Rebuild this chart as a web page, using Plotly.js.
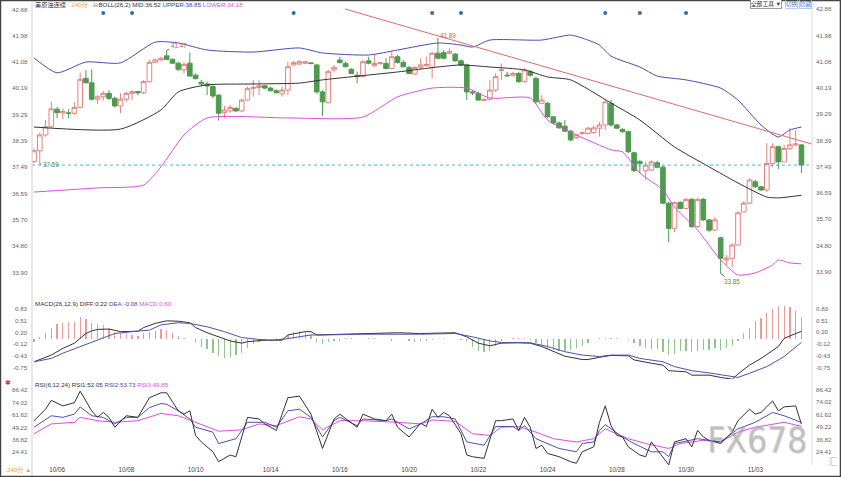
<!DOCTYPE html>
<html><head><meta charset="utf-8">
<script src="https://cdn.plot.ly/plotly-3.0.1.min.js"></script>
<style>html,body{margin:0;padding:0;background:#fff;}#chart{width:841px;height:477px;}</style>
</head><body><div id="chart"></div>
<script>
// ---------- DATA ----------
const openP = [37.67,38.04,38.58,38.86,39.46,39.33,39.33,39.32,39.52,40.51,
40.36,39.80,39.88,40.00,39.83,39.57,39.80,40.00,40.06,40.02,
40.40,41.06,41.14,41.28,41.16,41.03,40.80,41.03,40.62,40.38,
40.32,40.23,39.94,39.34,39.40,39.49,39.40,39.77,40.17,40.20,
40.26,40.18,40.09,39.98,40.11,40.97,41.00,41.03,41.04,40.97,
40.05,39.68,40.80,41.14,41.02,40.82,40.62,40.57,41.11,40.94,
41.02,41.02,40.85,41.25,41.05,40.88,40.66,40.89,40.96,40.89,
41.37,41.39,41.37,41.34,41.11,40.97,40.05,40.00,39.76,39.80,
40.11,40.78,40.62,40.62,40.68,40.40,40.74,40.51,39.66,39.66,
39.20,38.99,38.88,38.71,38.48,38.63,38.63,38.66,38.81,38.92,
39.66,38.92,38.77,38.69,37.97,37.67,37.36,37.38,37.63,37.48,
36.25,35.39,36.27,36.07,36.38,35.45,36.38,35.68,35.33,35.07,
34.31,34.37,34.82,35.95,36.25,36.98,36.81,36.70,37.61,38.18,
37.66,38.12,38.24,38.24];
const highP = [38.12,38.66,39.09,39.71,39.54,39.49,39.46,39.71,40.71,40.80,
40.82,39.94,40.08,40.11,39.89,40.00,40.06,40.11,40.08,40.46,
41.14,41.20,41.25,41.47,41.20,41.08,41.08,41.39,40.68,40.46,
40.40,40.28,39.96,39.57,39.60,39.52,39.83,40.23,40.46,40.46,
40.28,40.23,40.14,40.23,41.08,41.11,41.14,41.11,41.06,41.00,
40.11,40.80,40.97,41.25,41.08,40.86,40.74,41.14,41.25,41.31,
41.08,41.20,41.42,41.31,41.14,40.94,40.94,41.20,41.25,41.42,
41.89,41.48,41.54,41.37,41.16,41.02,40.11,40.06,39.83,40.46,
40.68,41.02,40.74,40.74,40.74,40.86,40.80,40.57,39.94,39.71,
39.22,39.04,39.09,38.75,38.62,38.70,38.85,38.90,39.03,39.77,
39.77,38.96,38.81,38.73,38.01,37.72,37.67,37.72,37.70,37.55,
36.30,36.30,36.32,36.43,36.43,36.43,36.43,35.71,35.78,35.10,
34.48,34.89,35.98,36.32,37.11,37.04,36.84,38.30,38.30,38.20,
38.24,38.82,38.75,38.27];
const lowP = [37.61,37.59,38.52,38.81,39.15,39.11,39.15,39.26,39.49,40.34,
39.75,39.64,39.75,39.77,39.52,39.32,39.71,39.77,39.94,39.98,
40.38,41.03,41.10,41.14,41.00,40.77,40.68,40.57,40.48,40.23,
39.94,39.83,39.07,39.15,39.34,39.37,39.36,39.75,39.89,39.94,
40.14,40.06,40.00,39.89,39.94,40.93,40.97,41.00,40.99,39.99,
39.23,39.66,40.74,41.02,40.89,40.66,40.34,40.55,40.99,40.91,
40.97,40.82,40.82,41.02,40.88,40.66,40.63,40.82,40.91,40.51,
41.16,41.16,41.34,41.08,40.94,39.77,39.94,39.75,39.74,39.75,
40.05,40.46,40.57,40.57,40.36,40.36,40.57,39.66,39.64,39.15,
38.94,38.80,38.68,38.36,38.44,38.58,38.60,38.62,38.52,38.75,
38.86,38.78,38.66,37.96,37.31,37.27,37.04,37.34,37.44,36.21,
34.92,35.26,36.04,36.04,35.40,35.40,35.64,35.27,35.30,33.85,
34.14,34.07,34.82,35.95,36.22,36.77,36.67,36.63,37.48,37.42,
37.66,38.06,38.20,37.28];
const closeP = [38.04,38.58,38.86,39.47,39.34,39.38,39.32,39.52,40.48,40.36,
39.80,39.88,40.00,39.83,39.57,39.80,40.00,40.06,40.02,40.40,
41.06,41.14,41.20,41.16,41.03,40.82,40.99,40.59,40.50,40.32,
40.25,39.91,39.32,39.43,39.52,39.40,39.77,40.17,40.20,40.26,
40.18,40.09,40.02,40.11,40.91,41.05,41.08,41.08,41.02,40.05,
39.71,40.74,40.89,41.05,40.91,40.68,40.57,41.08,41.03,41.02,
41.04,40.85,41.25,41.05,40.91,40.68,40.88,40.97,40.98,41.37,
41.20,41.20,41.42,41.11,40.97,40.05,40.02,39.77,39.79,40.11,
40.57,40.80,40.60,40.68,40.40,40.80,40.62,39.71,39.77,39.20,
38.99,38.82,38.71,38.41,38.58,38.65,38.81,38.82,38.92,39.71,
38.92,38.81,38.69,38.01,37.36,37.61,37.55,37.66,37.48,36.25,
35.39,36.27,36.07,36.38,35.45,36.38,35.68,35.33,35.68,34.37,
34.37,34.82,35.92,36.25,37.04,36.81,36.70,37.61,38.18,37.66,
38.12,38.24,38.27,37.55];

// Bollinger band lines (bar index, value)
const upperIdx = [1,5,10,16,22,26,31,39,47,51,59,64,71,75,77,80,89,94,97,99,101,106,109,114,120,123,127,130,132,134];
const upperVal = [41.21,40.70,41.07,41.04,41.75,41.72,41.48,41.41,41.55,41.38,41.31,41.48,41.72,41.65,41.58,41.82,41.82,41.99,41.82,41.65,41.27,40.90,40.59,40.46,40.18,39.77,38.92,38.51,38.75,38.85];
const midIdx = [1,16,23,26,31,39,47,51,64,71,75,80,86,90,94,101,106,112,118,123,128,130,134];
const midVal = [38.85,38.78,39.43,40.05,40.29,40.32,40.35,40.46,40.73,40.90,40.97,40.90,40.80,40.56,40.46,39.67,39.09,38.17,37.49,36.94,36.46,36.43,36.52];
const lowerIdx = [1,12,20,23,27,31,45,58,64,70,76,80,87,90,95,101,103,106,110,112,116,120,123,126,129,130,132,134];
const lowerVal = [36.63,36.77,36.87,37.49,38.58,39.16,39.16,39.19,39.88,40.18,40.18,39.84,39.84,39.09,38.58,38.07,38.00,37.28,36.70,36.12,35.33,34.31,33.80,33.87,34.14,34.31,34.21,34.18];

// trend line drawn on the chart (bar index, price)
const trendIdx = [54.9, 137];
const trendVal = [42.88, 38.20];

// event dots along the top
const eventBars = [13,18,46,70,75,100,106,114];

// labelled extremes
const markBars = [2,24,71,120];
const markKind = ['low','high','high','low'];

// MACD
const macdHist = [-0.08,0.07,0.16,0.30,0.41,0.45,0.47,0.47,0.61,0.56,
0.45,0.41,0.38,0.27,0.21,0.16,0.16,0.12,0.10,0.16,
0.21,0.23,0.27,0.25,0.16,0.09,0.04,0.01,-0.06,-0.20,
-0.27,-0.36,-0.45,-0.50,-0.47,-0.42,-0.36,-0.24,-0.13,-0.07,
-0.04,-0.03,0.03,0.05,0.13,0.20,0.22,0.20,0.13,-0.07,
-0.11,-0.06,-0.05,-0.04,0.04,0.04,0.02,0.02,0.03,0.04,
0.02,0.01,-0.03,0.02,0.01,-0.05,-0.07,-0.05,-0.03,-0.02,
0.02,0.03,0.02,0.02,-0.02,-0.08,-0.20,-0.30,-0.33,-0.30,
-0.18,-0.04,0.02,0.03,0.03,0.04,-0.02,-0.10,-0.15,-0.22,
-0.28,-0.30,-0.30,-0.28,-0.24,-0.18,-0.10,0.02,0.03,0.04,
0.03,0.03,0.02,-0.02,-0.10,-0.18,-0.22,-0.25,-0.26,-0.33,
-0.43,-0.38,-0.32,-0.30,-0.33,-0.30,-0.28,-0.28,-0.24,-0.28,
-0.22,-0.14,-0.05,0.18,0.31,0.49,0.58,0.72,0.81,0.90,
0.91,0.88,0.76,0.60];
const diffIdx = [1,4,6,8,10,11,12,14,16,19,20,22,24,26,28,29,31,33,35,37,38,41,44,45,48,49,50,52,58,64,68,71,74,76,78,80,82,85,87,89,91,93,96,97,99,101,104,105,108,110,111,114,115,118,120,122,123,125,127,130,131,133,134];
const diffVal = [-0.60,-0.42,-0.24,-0.10,0.16,0.23,0.27,0.28,0.21,0.22,0.32,0.43,0.50,0.49,0.45,0.32,0.18,0.07,-0.04,-0.10,-0.06,-0.02,-0.02,0.12,0.21,0.21,0.12,0.13,0.16,0.18,0.16,0.16,0.18,0.07,-0.10,-0.17,-0.10,-0.09,-0.10,-0.19,-0.33,-0.45,-0.54,-0.54,-0.48,-0.43,-0.44,-0.55,-0.64,-0.69,-0.84,-0.87,-0.96,-0.96,-1.02,-1.07,-0.93,-0.69,-0.51,-0.19,0.03,0.16,0.22];
const deaIdx = [1,4,6,9,12,15,18,21,23,26,28,31,34,37,40,42,44,47,49,51,58,68,74,77,80,82,87,90,93,96,99,101,104,106,110,112,115,118,121,123,125,128,131,134];
const deaVal = [-0.60,-0.51,-0.37,-0.19,-0.02,0.16,0.21,0.25,0.39,0.45,0.43,0.34,0.21,0.05,0.00,-0.02,0.00,0.07,0.12,0.12,0.14,0.14,0.16,0.07,-0.04,-0.08,-0.09,-0.19,-0.33,-0.42,-0.46,-0.42,-0.42,-0.51,-0.60,-0.73,-0.84,-0.90,-0.98,-1.02,-0.91,-0.73,-0.46,-0.08];

// RSI
const rsi1Idx = [1,3,4,6,8,9,11,12,13,14,15,17,19,21,23,24,26,27,28,29,30,32,33,35,36,38,40,41,43,45,47,49,51,53,54,57,58,60,62,63,64,66,68,69,70,71,72,73,75,76,77,79,81,82,84,85,86,87,88,89,90,92,94,95,96,98,99,100,101,102,103,104,106,107,108,110,111,112,114,115,116,117,118,120,122,123,125,126,127,129,130,131,133,134];
const rsi1Val = [55.5,66.9,75.7,70.2,73.4,84.8,65.3,58.8,63.7,58.8,49.0,60.4,58.8,78.3,83.2,83.2,65.3,62.0,65.3,40.9,34.4,24.6,14.8,21.4,19.7,58.8,57.2,52.3,45.8,78.3,79.9,62.0,27.9,57.2,62.0,49.0,62.0,57.2,55.5,62.0,49.0,39.3,53.0,49.7,66.9,58.8,63.7,60.4,42.5,21.4,19.7,18.1,55.5,55.5,57.2,45.8,58.8,49.0,27.9,31.1,23.0,19.7,14.8,13.2,24.6,29.5,53.9,70.2,50.6,40.9,39.3,29.5,21.4,19.7,34.4,19.7,11.6,34.4,37.6,29.5,45.8,39.3,36.0,32.8,44.1,55.5,66.9,62.0,63.7,75.1,65.3,69.2,70.2,52.05];
const rsi2Idx = [1,4,6,8,9,11,13,15,17,19,21,23,24,26,28,29,32,33,35,36,38,41,43,45,47,49,51,53,54,57,58,62,63,66,68,70,72,74,76,79,81,84,85,86,88,92,95,96,98,99,100,103,105,108,110,111,112,116,120,123,126,129,131,134];
const rsi2Val = [49.0,60.4,58.8,62.0,69.2,60.4,58.8,52.3,58.8,58.8,68.5,72.5,71.8,65.3,57.2,49.0,44.1,32.8,36.0,37.6,53.9,53.9,49.0,65.3,66.9,58.8,39.3,55.5,58.8,50.6,57.2,55.5,57.2,47.4,52.3,59.4,59.4,57.2,34.4,31.1,49.7,49.7,45.8,50.6,37.6,27.9,24.6,32.8,34.4,45.8,51.6,39.3,32.8,24.6,24.6,19.7,32.8,37.6,34.4,47.4,53.9,63.7,60.4,53.73];
const rsi3Idx = [1,4,8,9,12,15,19,23,26,29,33,37,40,43,47,49,51,54,58,64,68,70,74,77,80,82,85,88,91,95,98,100,104,107,111,113,117,120,123,126,129,131,134];
const rsi3Val = [42.5,52.3,53.9,58.8,55.5,53.9,55.5,62.7,60.4,53.9,45.1,46.4,52.3,50.6,59.4,57.2,46.4,55.5,55.5,53.9,52.3,56.2,54.9,42.5,40.9,49.0,49.7,44.1,37.6,34.4,37.6,47.4,37.6,32.8,27.9,32.8,36.0,34.4,44.1,49.0,52.3,53.9,49.85];

// axis ticks
const priceTicks = [42.88,41.98,41.08,40.19,39.29,38.39,37.49,36.59,35.70,34.80,33.90];
const macdTicks = [0.83,0.51,0.20,-0.12,-0.43,-0.75];
const rsiTicks = [86.42,74.02,61.62,49.22,36.82,24.41];
const dateTickBars = [5,17,29,42,54,66,78,90,102,114,126];
const dateTickLabels = ['10/06','10/08','10/10','10/14','10/16','10/20','10/22','10/24','10/28','10/30','11/03'];

// ---------- STYLE ----------
const FONT = 'Liberation Sans, Arial, Noto Sans CJK SC, sans-serif';
const C = {up:'#e5837d', down:'#4e9a4e', mid:'#333333', upper:'#4b4bb0', lower:'#e04ce0',
  trend:'#e06a6a', histUp:'#e99c9c', histDn:'#8fc48f', tick:'#666', txt:'#333', orange:'#f0a030'};
const last = a => a[a.length - 1];
const f2 = v => v.toFixed(2);
const bars = openP.map((_, i) => i + 1);

const data = [
  {type:'candlestick', x:bars, open:openP, high:highP, low:lowP, close:closeP,
   xaxis:'x', yaxis:'y', whiskerwidth:0,
   increasing:{line:{color:C.up, width:1}, fillcolor:'#ffffff'},
   decreasing:{line:{color:C.down, width:1}, fillcolor:C.down}, hoverinfo:'skip'},
  {type:'scatter', mode:'lines', x:upperIdx, y:upperVal, line:{color:C.upper, width:1, shape:'spline', smoothing:0.6}, xaxis:'x', yaxis:'y'},
  {type:'scatter', mode:'lines', x:midIdx, y:midVal, line:{color:C.mid, width:1, shape:'spline', smoothing:0.6}, xaxis:'x', yaxis:'y'},
  {type:'scatter', mode:'lines', x:lowerIdx, y:lowerVal, line:{color:C.lower, width:1, shape:'spline', smoothing:0.6}, xaxis:'x', yaxis:'y'},
  {type:'scatter', mode:'lines', x:trendIdx, y:trendVal, line:{color:C.trend, width:1}, xaxis:'x', yaxis:'y'},
  {type:'scatter', mode:'markers', x:eventBars, y:eventBars.map(() => 42.74), marker:{color:'#2f6ea6', size:4}, xaxis:'x', yaxis:'y'},
  {type:'bar', x:bars, y:macdHist, width:0.22, marker:{color:macdHist.map(v => v >= 0 ? C.histUp : C.histDn), line:{width:0}}, xaxis:'x', yaxis:'y2'},
  {type:'scatter', mode:'lines', x:diffIdx, y:diffVal, line:{color:'#333', width:1}, xaxis:'x', yaxis:'y2'},
  {type:'scatter', mode:'lines', x:deaIdx, y:deaVal, line:{color:'#5050b0', width:1}, xaxis:'x', yaxis:'y2'},
  {type:'scatter', mode:'lines', x:rsi3Idx, y:rsi3Val, line:{color:C.lower, width:1}, xaxis:'x', yaxis:'y3'},
  {type:'scatter', mode:'lines', x:rsi2Idx, y:rsi2Val, line:{color:'#5050b0', width:1}, xaxis:'x', yaxis:'y3'},
  {type:'scatter', mode:'lines', x:rsi1Idx, y:rsi1Val, line:{color:'#333', width:1}, xaxis:'x', yaxis:'y3'}
];

const tickFont = {family:FONT, size:6.2, color:C.tick};
const annotations = [];
function leftTicks(ticks, yref){
  ticks.forEach(t => annotations.push({xref:'paper', x:0, xanchor:'right', xshift:-2, yref:yref, y:t,
    text:f2(t), showarrow:false, font:tickFont}));
}
leftTicks(priceTicks, 'y'); leftTicks(macdTicks, 'y2'); leftTicks(rsiTicks, 'y3');

const markStyle = [{ax:11, ay:1}, {ax:12, ay:-5}, {ax:10, ay:-3}, {ax:11, ay:8}];
markBars.forEach((b, i) => {
  const hi = markKind[i] === 'high';
  const v = hi ? highP[b - 1] : lowP[b - 1];
  annotations.push({x:b, y:v, xref:'x', yref:'y', text:f2(v), showarrow:true, arrowhead:0,
    arrowwidth:0.7, arrowcolor:'#333', ax:markStyle[i].ax, ay:markStyle[i].ay, standoff:0,
    font:{family:FONT, size:6.3, color: hi ? '#d9534f' : '#3f9a3f'}});
});

const hdrFont = {family:FONT, size:6.2, color:C.txt};
annotations.push(
  {xref:'paper', yref:'paper', x:0.0013, y:0.9957, xanchor:'left', yanchor:'middle', showarrow:false, font:hdrFont,
   text:`美原油连续 <span style="color:${C.orange}">· 240分 ·</span> <span style="color:#7d5fb2">⊟</span>BOLL(26,2) MID:${f2(last(midVal))} <span style="color:#3a3ab5">UPPER:${f2(last(upperVal))}</span> <span style="color:${C.lower}">LOWER:${f2(last(lowerVal))}</span>`},
  {xref:'paper', yref:'paper', x:0.0013, y:0.3496, xanchor:'left', yanchor:'middle', showarrow:false, font:hdrFont,
   text:`MACD(26,12,9) DIFF:${f2(last(diffVal))} <span style="color:#4848b0">DEA:${f2(last(deaVal))}</span> <span style="color:${C.lower}">MACD:${f2(last(macdHist))}</span>`},
  {xref:'paper', yref:'paper', x:0.0013, y:0.1753, xanchor:'left', yanchor:'middle', showarrow:false, font:hdrFont,
   text:`RSI(6,12,24) RSI1:${f2(last(rsi1Val))} <span style="color:#4848b0">RSI2:${f2(last(rsi2Val))}</span> <span style="color:${C.lower}">RSI3:${f2(last(rsi3Val))}</span>`},
  {xref:'paper', yref:'paper', x:-0.0372, y:0.1775, xanchor:'left', yanchor:'middle', showarrow:false,
   text:'✱', font:{family:FONT, size:7, color:'#e03030'}},
  {xref:'paper', yref:'paper', x:-0.0346, y:-0.0108, xanchor:'left', yanchor:'middle', showarrow:false,
   text:'240分 ▲', font:{family:FONT, size:6.2, color:C.orange}},
  {xref:'paper', yref:'paper', x:0.9205, y:0.9968, xanchor:'left', yanchor:'middle', showarrow:false,
   text:'全部工具 ▼', font:{family:FONT, size:5.8, color:'#333'}, bordercolor:'#888', borderwidth:0.8, borderpad:0, bgcolor:'#fff'},
  {xref:'paper', yref:'paper', x:0.9653, y:0.9968, xanchor:'left', yanchor:'middle', showarrow:false,
   text:'切换', font:{family:FONT, size:5.8, color:'#3a7bd5'}, bordercolor:'#9cc0ee', borderwidth:0.8, borderpad:0},
  {xref:'paper', yref:'paper', x:0.9833, y:0.9968, xanchor:'left', yanchor:'middle', showarrow:false,
   text:'隐藏', font:{family:FONT, size:5.8, color:'#3a7bd5'}, bordercolor:'#9cc0ee', borderwidth:0.8, borderpad:0},
  {xref:'paper', yref:'paper', x:0.9295, y:0.054, xanchor:'center', yanchor:'middle', showarrow:false,
   text:'FX678', font:{family:'Liberation Sans Narrow, DejaVu Sans Condensed, Liberation Sans, sans-serif', size:35, color:'rgba(175,175,175,0.55)', shadow:'1px 1px 1px rgba(90,90,90,0.55)'}},
  {xref:'paper', yref:'paper', x:1.035, y:0.008, xanchor:'right', yanchor:'middle', showarrow:false,
   text:'汇', font:{family:'Noto Sans CJK SC, sans-serif', size:9, color:'#c8c8c8'}}
);

const layout = {
  width:841, height:477, margin:{l:32, r:29, t:3, b:12},
  paper_bgcolor:'#ffffff', plot_bgcolor:'#ffffff', showlegend:false, hovermode:false,
  bargap:0, boxgap:0.2, boxgroupgap:0,
  xaxis:{domain:[0,1], anchor:'y3', range:[0.653,135.83], tickmode:'array', tickvals:dateTickBars, ticktext:dateTickLabels,
    ticks:'', showgrid:false, zeroline:false, showline:false, rangeslider:{visible:false},
    tickfont:{family:FONT, size:6.3, color:'#444'}},
  yaxis:{domain:[0.36797,1], anchor:'x', side:'right', range:[33.115,43.085], tickmode:'array', tickvals:priceTicks,
    ticktext:priceTicks.map(f2), ticks:'', showgrid:false, zeroline:false, showline:false, tickfont:tickFont, ticklabelstandoff:3},
  yaxis2:{domain:[0.18615,0.35714], anchor:'x', side:'right', range:[-1.063,1.060], tickmode:'array', tickvals:macdTicks,
    ticktext:macdTicks.map(f2), ticks:'', showgrid:false, zeroline:false, showline:false, tickfont:tickFont, ticklabelstandoff:3},
  yaxis3:{domain:[0,0.18615], anchor:'x', side:'right', range:[11.5,96.9], tickmode:'array', tickvals:rsiTicks,
    ticktext:rsiTicks.map(f2), ticks:'', showgrid:false, zeroline:false, showline:false, tickfont:tickFont, ticklabelstandoff:3},
  shapes:[
    {type:'line', xref:'paper', yref:'y', x0:0, x1:1, y0:last(closeP), y1:last(closeP), line:{color:'#58b0dc', width:1, dash:'dot'}},
    {type:'line', xref:'paper', yref:'paper', x0:0, x1:0, y0:-0.026, y1:1, line:{color:'#cfcfcf', width:1}},
    {type:'line', xref:'paper', yref:'paper', x0:1, x1:1, y0:0, y1:1, line:{color:'#dcdcdc', width:1}},
    {type:'rect', xref:'paper', yref:'paper', x0:-0.0404, x1:1.0365, y0:-0.0249, y1:1.0054, line:{color:'#444', width:1.5}}
  ],
  annotations:annotations
};

Plotly.newPlot('chart', data, layout, {staticPlot:true, displayModeBar:false});
</script>
</body></html>
